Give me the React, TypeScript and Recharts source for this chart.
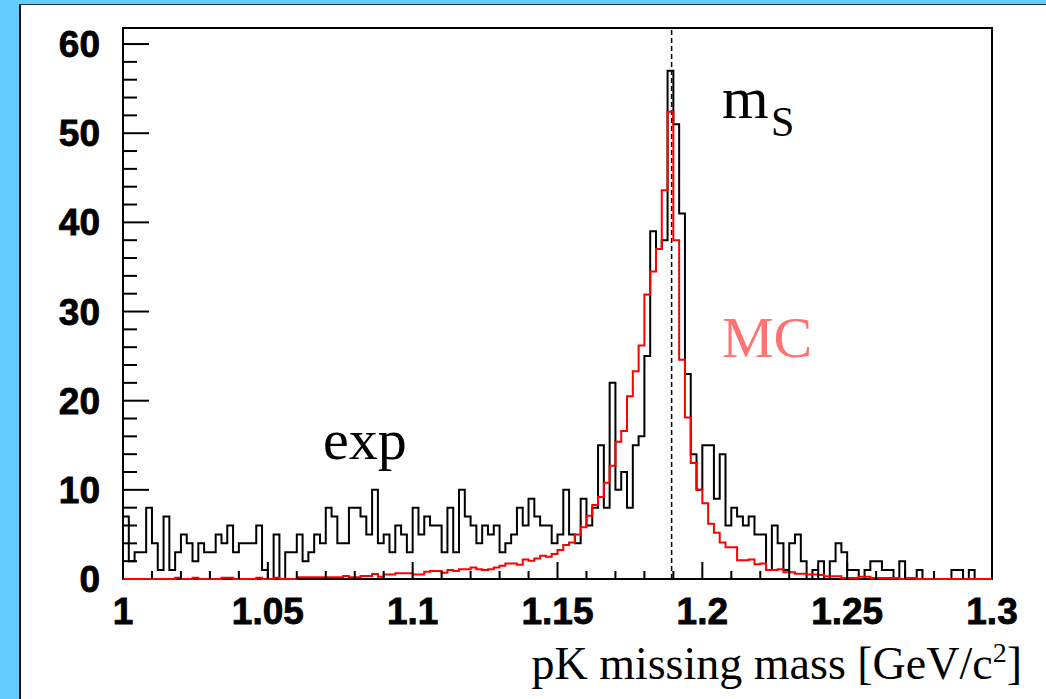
import React from "react";
import { LineChart, Line, XAxis, YAxis, ReferenceLine } from "recharts";

// Histogram binning: 150 bins of 2 MeV from 1.0 to 1.3 GeV/c^2
const binLow = 1.0;
const binWidth = 0.002;

// Measured counts per bin (exp)
const expCounts = [
  7, 2, 3, 3, 8, 4, 1, 7, 1, 3,
  5, 4, 2, 4, 3, 3, 5, 4, 6, 3,
  4, 4, 4, 6, 1, 0, 5, 0, 3, 3,
  5, 2, 3, 5, 4, 8, 7, 4, 4, 8,
  8, 7, 5, 10, 4, 5, 3, 6, 5, 3,
  8, 5, 7, 6, 6, 3, 8, 3, 10, 7,
  6, 4, 6, 5, 6, 3, 4, 5, 8, 6,
  9, 7, 6, 6, 4, 5, 10, 5, 4, 9,
  6, 8, 15, 8, 22, 10, 12, 8, 15, 16,
  25, 39, 37, 38, 57, 51, 41, 23, 14, 10,
  15, 15, 9, 14, 6, 8, 7, 6, 7, 5,
  5, 1, 6, 4, 1, 4, 5, 2, 0, 1,
  2, 0, 2, 4, 3, 1, 1, 0, 1, 2,
  2, 1, 1, 0, 2, 0, 0, 1, 0, 0,
  0, 0, 0, 1, 1, 0, 1, 0, 0, 0,
];

// Simulated (MC) spectrum, scaled to the data
const mcCounts = [
  0, 0, 0, 0, 0, 0, 0, 0, 0, 0.15,
  0, 0, 0.15, 0, 0, 0, 0, 0.15, 0.15, 0,
  0, 0, 0, 0.15, 0, 0, 0.15, 0, 0, 0,
  0.2, 0.2, 0.2, 0.2, 0.2, 0.2, 0.2, 0.2, 0.35, 0.2,
  0.2, 0.35, 0.35, 0.55, 0.25, 0.5, 0.5, 0.65, 0.65, 0.65,
  0.5, 0.5, 0.8, 0.9, 0.9, 0.7, 1.0, 0.9, 1.1, 1.1,
  1.3, 1.1, 1.0, 1.1, 1.3, 1.5, 1.75, 1.75, 1.6, 2.2,
  2.05, 2.3, 2.6, 2.5, 2.8, 3.25, 3.8, 4.1, 5.0, 5.8,
  7.1, 8.3, 9.2, 10.8, 12.7, 15.4, 16.6, 20.5, 23.3, 26.2,
  31.9, 34.5, 37.0, 43.6, 52.4, 38.0, 24.6, 18.1, 13.0, 10.0,
  8.5, 6.2, 5.2, 4.1, 3.55, 3.55, 2.1, 2.1, 2.2, 1.65,
  1.75, 1.0, 1.0, 1.1, 0.75, 0.75, 0.6, 0.6, 0.5, 0.5,
  0.45, 0.3, 0.3, 0.3, 0.1, 0.1, 0.1, 0.25, 0.25, 0.1,
  0.1, 0.1, 0.1, 0.1, 0, 0.1, 0.1, 0, 0, 0,
  0, 0, 0, 0, 0, 0, 0, 0, 0, 0,
];

// Axis ticks
const xTicks = [
  1.0, 1.01, 1.02, 1.03, 1.04, 1.05, 1.06, 1.07, 1.08, 1.09,
  1.1, 1.11, 1.12, 1.13, 1.14, 1.15, 1.16, 1.17, 1.18, 1.19,
  1.2, 1.21, 1.22, 1.23, 1.24, 1.25, 1.26, 1.27, 1.28, 1.29, 1.3,
];
const yTicks = [
  0, 2, 4, 6, 8, 10, 12, 14, 16, 18, 20, 22, 24, 26, 28, 30,
  32, 34, 36, 38, 40, 42, 44, 46, 48, 50, 52, 54, 56, 58, 60,
];
const sigmaMass = 1.1894;

// Step-line rows: one row per bin low edge, closed at both ends
const rows: { x: number; exp: number; mc: number }[] = [{ x: binLow, exp: 0, mc: 0 }];
expCounts.forEach((v, i) => {
  rows.push({ x: Number((binLow + i * binWidth).toFixed(4)), exp: v, mc: mcCounts[i] });
});
rows.push({
  x: Number((binLow + expCounts.length * binWidth).toFixed(4)),
  exp: expCounts[expCounts.length - 1],
  mc: mcCounts[mcCounts.length - 1],
});

const tickFont = {
  fontFamily: '"Liberation Sans", Arial, sans-serif',
  fontWeight: 700,
  fontSize: 37,
  fill: "#000",
  stroke: "#000",
  strokeWidth: 0.8,
};
const serif = '"Liberation Serif", "Times New Roman", serif';

const YTick = (props: any) => {
  const { x, y, payload } = props;
  const v = payload.value as number;
  const major = v % 10 === 0;
  return (
    <g>
      {v !== 0 && (
        <line x1={x} x2={x + (major ? 26 : 14)} y1={y} y2={y} stroke="#000" strokeWidth={2} />
      )}
      {major && (
        <text x={x - 23} y={y + 13} textAnchor="end" {...tickFont}>
          {v}
        </text>
      )}
    </g>
  );
};

const XTick = (props: any) => {
  const { x, y, payload } = props;
  const v = payload.value as number;
  const major = Math.round(v * 100) % 5 === 0;
  return (
    <g>
      <line x1={x} x2={x} y1={y} y2={y - (major ? 17 : 8)} stroke="#000" strokeWidth={2} />
      {major && (
        <text x={x} y={y + 45} textAnchor="middle" {...tickFont}>
          {Number(v.toFixed(2)).toString()}
        </text>
      )}
    </g>
  );
};

export default function App() {
  return (
    <div style={{ position: "absolute", left: 0, top: 0, width: 1046, height: 699, background: "#66ccff", overflow: "hidden" }}>
      <div
        style={{
          position: "absolute",
          left: 19,
          top: 4,
          right: 0,
          bottom: 0,
          background: "#fff",
          borderTop: "1px solid #1f3a48",
          borderLeft: "2px solid #111",
        }}
      />
      {/* plot frame, drawn beneath the histograms */}
      <div
        style={{
          position: "absolute",
          left: 122,
          top: 27,
          width: 871,
          height: 553,
          boxSizing: "border-box",
          border: "2px solid #000",
        }}
      />
      <div style={{ position: "absolute", left: 0, top: 0 }}>
        <LineChart width={1046} height={699} data={rows} margin={{ top: 28, right: 54, bottom: 60, left: 63 }}>
          <XAxis
            dataKey="x"
            type="number"
            domain={[1, 1.3]}
            ticks={xTicks}
            interval={0}
            tickSize={0}
            tickMargin={0}
            axisLine={false}
            tickLine={false}
            tick={<XTick />}
            height={60}
          />
          <YAxis
            type="number"
            domain={[0, 61.8]}
            ticks={yTicks}
            interval={0}
            tickSize={0}
            tickMargin={0}
            axisLine={false}
            tickLine={false}
            tick={<YTick />}
            width={60}
          />
          <ReferenceLine x={sigmaMass} stroke="#000" strokeWidth={1.5} strokeDasharray="5 3" />
          <Line dataKey="exp" type="stepAfter" stroke="#000" strokeWidth={2} dot={false} isAnimationActive={false} />
          <Line dataKey="mc" type="stepAfter" stroke="#ff0000" strokeWidth={2} dot={false} isAnimationActive={false} />
        </LineChart>
      </div>
      <svg width={1046} height={699} style={{ position: "absolute", left: 0, top: 0, pointerEvents: "none" }}>
        <text x={323} y={459} fontFamily={serif} fontSize={58} fill="#000">exp</text>
        <text x={722} y={118} fontFamily={serif} fontSize={60} fill="#000">m</text>
        <text x={771} y={136} fontFamily={serif} fontSize={42} fill="#000">S</text>
        <text x={722} y={357} fontFamily={serif} fontSize={58} fill="#ff7373">MC</text>
        <text x={1022} y={679} textAnchor="end" fontFamily={serif} fontSize={46} fill="#000">
          pK missing mass [GeV/c
          <tspan fontSize={28} dy={-17}>2</tspan>
          <tspan dy={17}>]</tspan>
        </text>
      </svg>
    </div>
  );
}
